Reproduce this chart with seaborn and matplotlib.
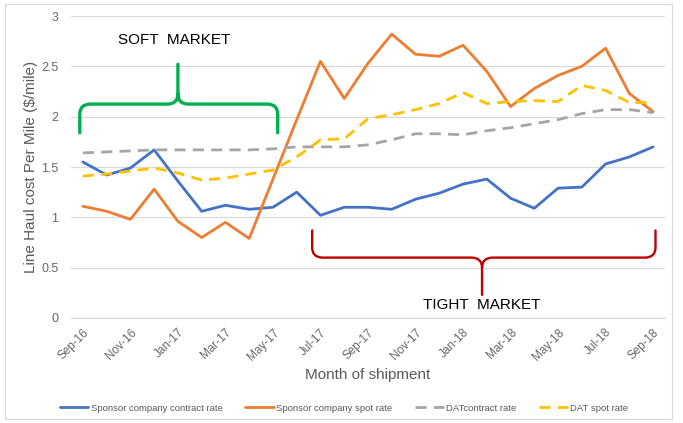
import numpy as np
import pandas as pd
import matplotlib
matplotlib.use("Agg")
import matplotlib.pyplot as plt
from matplotlib.path import Path
from matplotlib.patches import PathPatch, Rectangle
import seaborn as sns

months = ["Sep-16", "Oct-16", "Nov-16", "Dec-16", "Jan-17", "Feb-17", "Mar-17", "Apr-17",
          "May-17", "Jun-17", "Jul-17", "Aug-17", "Sep-17", "Oct-17", "Nov-17", "Dec-17",
          "Jan-18", "Feb-18", "Mar-18", "Apr-18", "May-18", "Jun-18", "Jul-18", "Aug-18", "Sep-18"]
sponsor_contract = [1.55, 1.42, 1.49, 1.67, 1.36, 1.06, 1.12, 1.08, 1.10, 1.25, 1.02, 1.10, 1.10,
                    1.08, 1.18, 1.24, 1.33, 1.38, 1.19, 1.09, 1.29, 1.30, 1.53, 1.60, 1.70]
sponsor_spot = [1.11, 1.06, 0.98, 1.28, 0.96, 0.80, 0.95, 0.79, 1.38, 1.97, 2.55, 2.18, 2.53,
                2.82, 2.62, 2.60, 2.71, 2.45, 2.10, 2.28, 2.41, 2.50, 2.68, 2.23, 2.05]
dat_contract = [1.64, 1.65, 1.66, 1.67, 1.67, 1.67, 1.67, 1.67, 1.68, 1.70, 1.70, 1.70, 1.72,
                1.77, 1.83, 1.83, 1.82, 1.86, 1.89, 1.93, 1.97, 2.03, 2.07, 2.07, 2.04]
dat_spot = [1.41, 1.43, 1.46, 1.49, 1.44, 1.37, 1.39, 1.43, 1.47, 1.60, 1.77, 1.78, 1.98,
            2.02, 2.07, 2.13, 2.24, 2.13, 2.15, 2.16, 2.15, 2.31, 2.26, 2.14, 2.14]
series_names = ["Sponsor company contract rate", "Sponsor company spot rate",
                "DATcontract rate", "DAT spot rate"]
tick_labels = months[::2]
yticks = [0, 0.5, 1, 1.5, 2, 2.5, 3]

colors = {series_names[0]: "#4472C4", series_names[1]: "#ED7D31",
          series_names[2]: "#A5A5A5", series_names[3]: "#FFC000"}
dashes = {series_names[0]: "", series_names[1]: "",
          series_names[2]: (4, 2.6), series_names[3]: (4, 2.6)}

frames = []
for name, vals in zip(series_names, [sponsor_contract, sponsor_spot, dat_contract, dat_spot]):
    frames.append(pd.DataFrame({"idx": np.arange(len(months)), "month": months,
                                "rate": vals, "series": name}))
df = pd.concat(frames, ignore_index=True)

sns.set_theme(style="white")
plt.rcParams["font.family"] = ["Liberation Sans", "DejaVu Sans"]

fig = plt.figure(figsize=(6.83, 4.23), dpi=100)
ax = fig.add_axes([71 / 683, 1 - 318 / 423, (665 - 71) / 683, (318 - 16) / 423])

sns.lineplot(data=df, x="idx", y="rate", hue="series", style="series",
             palette=colors, dashes=dashes, hue_order=series_names,
             style_order=series_names, linewidth=2.0, legend=False, ax=ax)

ax.set_xlim(-0.5, len(months) - 0.5)
ax.set_ylim(0, 3)
ax.set_yticks(yticks)
ax.set_yticklabels(["0", "0.5", "1", "1.5", "2", "2.5", "3"])
ax.grid(axis="y", color="#D9D9D9", linewidth=0.9)
ax.set_axisbelow(True)
for s in ["top", "right", "left"]:
    ax.spines[s].set_visible(False)
ax.spines["bottom"].set_color("#D9D9D9")
ax.spines["bottom"].set_linewidth(0.9)

# tick marks at category boundaries, labels at category centres
ax.set_xticks(np.arange(-0.5, len(months), 2))
ax.set_xticklabels([])
ax.tick_params(axis="x", which="major", length=4, color="#D9D9D9", width=0.9, direction="out")
ax.set_xticks(np.arange(0, len(months), 2), minor=True)
ax.set_xticklabels(tick_labels, minor=True, rotation=45, ha="right",
                   rotation_mode="anchor", color="#666666", fontsize=8.5)
ax.tick_params(axis="x", which="minor", length=0, pad=6)
ax.tick_params(axis="y", length=0, pad=9, labelcolor="#666666", labelsize=9)

ax.set_xlabel("Month of shipment", color="#595959", fontsize=11, labelpad=4)
ax.set_ylabel("Line Haul cost Per Mile ($/mile)", color="#595959", fontsize=11, labelpad=2)


def brace(ax, x0, x1, xm, yb, yend, ytip, rx, ry, color, lw):
    s = 1 if ytip > yb else -1
    verts = [(x0, yend), (x0, yb - s * ry), (x0, yb), (x0 + rx, yb),
             (xm - rx, yb), (xm, yb), (xm, yb + s * ry), (xm, ytip),
             (xm, yb + s * ry), (xm, yb), (xm + rx, yb),
             (x1 - rx, yb), (x1, yb), (x1, yb - s * ry), (x1, yend)]
    codes = [Path.MOVETO, Path.LINETO, Path.CURVE3, Path.CURVE3,
             Path.LINETO, Path.CURVE3, Path.CURVE3, Path.LINETO,
             Path.MOVETO, Path.CURVE3, Path.CURVE3,
             Path.LINETO, Path.CURVE3, Path.CURVE3, Path.LINETO]
    ax.add_patch(PathPatch(Path(verts, codes), facecolor="none", edgecolor=color,
                           linewidth=lw, capstyle="round", joinstyle="round",
                           clip_on=False, zorder=5))


brace(ax, -0.13, 8.2, 4.0, 2.125, 1.84, 2.52, 0.45, 0.1, "#00B050", 2.4)
brace(ax, 9.65, 24.1, 16.8, 0.60, 0.87, 0.23, 0.45, 0.1, "#C00000", 1.7)

ax.text(3.85, 2.76, "SOFT  MARKET", ha="center", va="center", fontsize=11, color="black")
ax.text(16.8, 0.13, "TIGHT  MARKET", ha="center", va="center", fontsize=11, color="black")

handles = ax.get_lines()[:4]
fig.legend(handles, series_names, loc="center", bbox_to_anchor=(344 / 683, 1 - 408 / 423),
           ncol=4, frameon=False, fontsize=6.8, labelcolor="#595959",
           handlelength=3.0, columnspacing=2.4, handletextpad=0.3)

fig.patches.append(Rectangle((5 / 683, 4 / 423), 667 / 683, 415 / 423, transform=fig.transFigure,
                             facecolor="none", edgecolor="#D9D9D9", linewidth=0.8))

fig.savefig("out.png", dpi=100)
